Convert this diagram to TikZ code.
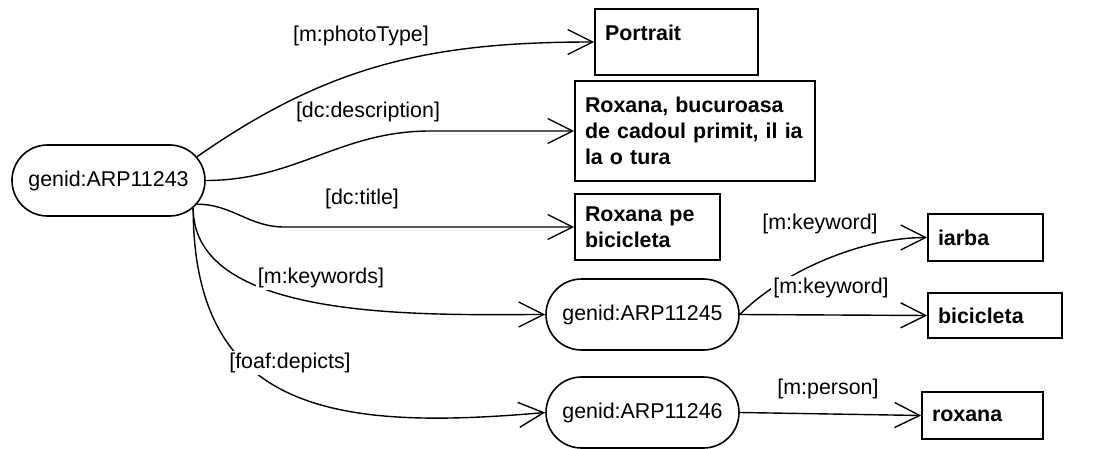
\documentclass[tikz,border=0pt]{standalone}
\usepackage{fontspec}
\setmainfont{Liberation Sans}
\usetikzlibrary{arrows.meta,shapes.misc}

\begin{document}
\begin{tikzpicture}[x=0.5pt,y=-0.5pt,
        font=\fontsize{10.7}{13}\selectfont,
        blank/.style={draw,line width=0.8pt,rounded rectangle,inner sep=0pt,minimum width=96.5pt,minimum height=35.5pt},
        lit/.style={draw,line width=0.8pt,rectangle,align=left,font=\fontsize{10.7}{13}\selectfont\bfseries,inner xsep=5pt,inner ysep=2pt},
        prop/.style={fill=white,inner sep=1pt},
        edge/.style={line width=0.7pt,-{Straight Barb[length=12.5pt,width=12.5pt]}}]
                \useasboundingbox (0,0) rectangle (1109,449);
                \node[blank] (gen43) at (108.5,180.5) {genid:ARP11243};
                \node[blank] (gen45) at (642.5,314.5) {genid:ARP11245};
                \node[blank] (gen46) at (642.5,412.5) {genid:ARP11246};
                \node[lit,text width=71.5pt,minimum height=33pt,text depth=9pt] (portrait) at (676.5,42) {Portrait};
                \node[lit,text width=110pt,minimum height=50pt] (desc) at (695,131) {Roxana, bucuroasa\\de cadoul primit, il ia\\la o tura};
                \node[lit,text width=62.5pt,minimum height=33pt] (title) at (647.5,227) {Roxana pe\\bicicleta};
                \node[lit,text width=47.5pt,minimum height=23.5pt] (iarba) at (985.5,237.5) {iarba};
                \node[lit,text width=57pt,minimum height=22.5pt] (bicicleta) at (995,315.5) {bicicleta};
                \node[lit,text width=50.5pt,minimum height=23.5pt] (roxana) at (982.5,415.5) {roxana};
                \draw[edge] (gen43.15) to[out=35,in=180] (portrait.west);
                \draw[edge] (gen43.east) to[out=0,in=180] ([xshift=-72pt]desc.west) -- (desc.west);
                \draw[edge] (gen43.-15) to[out=0,in=180] ([xshift=-145pt]title.west) -- (title.west);
                \draw[edge] (gen43.-18) to[out=-90,in=180,looseness=0.8] (gen45.west);
                \draw[edge] (gen43.-18) to[out=-90,in=185,looseness=1.3] (gen46.west);
                \draw[edge] (gen45.east) to[out=45,in=180,looseness=0.8] (iarba.west);
                \draw[edge] (gen45.east) -- (bicicleta.west);
                \draw[edge] (gen46.east) -- (roxana.west);
                \node[prop] (lphoto) at (361,36) {[m:photoType]};
                \node[prop] (ldesc) at (368,112) {[dc:description]};
                \node[prop] (ltitle) at (362,199) {[dc:title]};
                \node[prop] (lkeys) at (321,278) {[m:keywords]};
                \node[prop] (ldepicts) at (290,363) {[foaf:depicts]};
                \node[prop] (lkey1) at (820,224) {[m:keyword]};
                \node[prop] (lkey2) at (831,288) {[m:keyword]};
                \node[prop] (lperson) at (828,389) {[m:person]};
            \end{tikzpicture}
\end{document}
